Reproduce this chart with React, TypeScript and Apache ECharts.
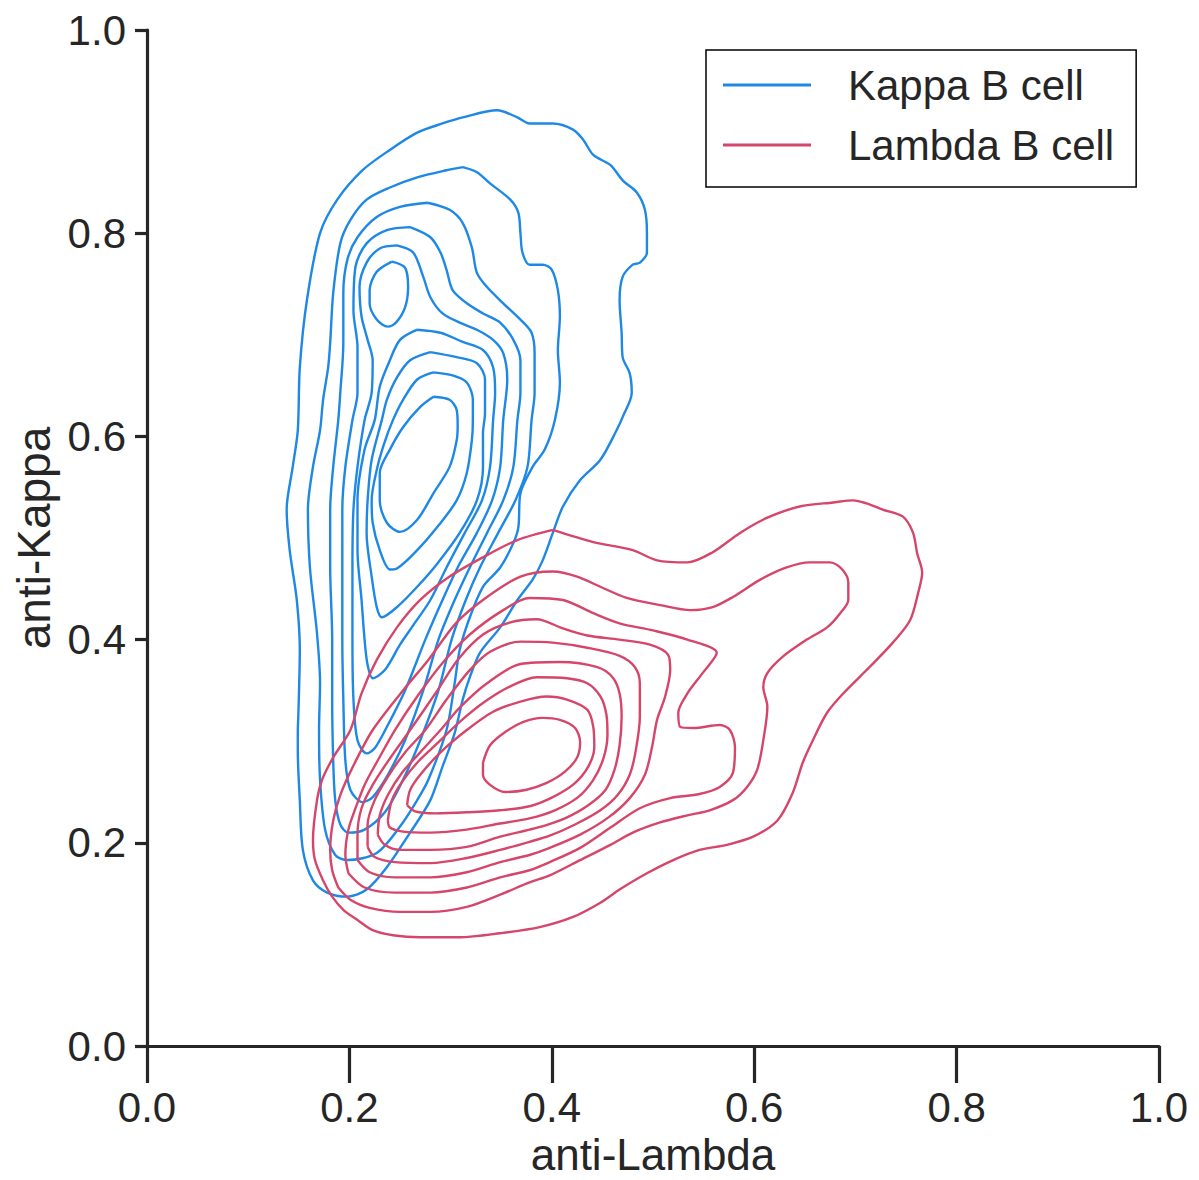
import React, { useEffect, useRef } from "react";
import * as echarts from "echarts";

// ---- data (anti-Lambda, anti-Kappa) ----
const SERIES_NAMES = ["Kappa B cell", "Lambda B cell"];
const TICK_VALUES = [0, 0.2, 0.4, 0.6, 0.8, 1.0];
const TICK_LABELS = ["0.0", "0.2", "0.4", "0.6", "0.8", "1.0"];
const X_NAME = "anti-Lambda";
const Y_NAME = "anti-Kappa";

const KAPPA_1 = [[0.149,0.311],[0.150,0.341],[0.151,0.390],[0.148,0.439],[0.141,0.488],[0.138,0.528],[0.144,0.570],[0.149,0.606],[0.151,0.668],[0.158,0.734],[0.171,0.800],[0.188,0.833],[0.213,0.862],[0.240,0.882],[0.267,0.899],[0.292,0.908],[0.312,0.914],[0.346,0.921],[0.366,0.914],[0.378,0.908],[0.401,0.908],[0.421,0.902],[0.431,0.892],[0.441,0.877],[0.458,0.867],[0.470,0.852],[0.484,0.840],[0.492,0.823],[0.494,0.800],[0.494,0.781],[0.487,0.771],[0.480,0.769],[0.470,0.757],[0.467,0.734],[0.469,0.702],[0.470,0.678],[0.477,0.662],[0.479,0.643],[0.470,0.619],[0.464,0.606],[0.448,0.577],[0.428,0.557],[0.411,0.531],[0.401,0.505],[0.391,0.478],[0.381,0.459],[0.366,0.439],[0.349,0.412],[0.329,0.387],[0.319,0.363],[0.312,0.341],[0.304,0.308],[0.292,0.275],[0.280,0.242],[0.260,0.210],[0.237,0.176],[0.217,0.154],[0.198,0.147],[0.178,0.151],[0.164,0.163],[0.154,0.193],[0.151,0.242],[0.149,0.291]];
const KAPPA_2 = [[0.312,0.865],[0.326,0.860],[0.339,0.849],[0.359,0.833],[0.367,0.820],[0.369,0.800],[0.371,0.781],[0.378,0.769],[0.391,0.769],[0.400,0.764],[0.406,0.744],[0.408,0.718],[0.406,0.685],[0.408,0.653],[0.403,0.616],[0.393,0.587],[0.381,0.570],[0.369,0.544],[0.367,0.511],[0.362,0.495],[0.349,0.471],[0.332,0.452],[0.319,0.422],[0.309,0.390],[0.304,0.357],[0.296,0.311],[0.278,0.262],[0.267,0.242],[0.250,0.216],[0.227,0.190],[0.198,0.183],[0.186,0.188],[0.176,0.213],[0.171,0.262],[0.170,0.311],[0.171,0.357],[0.168,0.406],[0.161,0.471],[0.159,0.528],[0.164,0.570],[0.171,0.606],[0.174,0.636],[0.179,0.668],[0.181,0.692],[0.184,0.741],[0.191,0.790],[0.201,0.813],[0.217,0.833],[0.240,0.845],[0.267,0.855],[0.296,0.862]];
const KAPPA_3 = [[0.277,0.830],[0.299,0.823],[0.312,0.810],[0.321,0.786],[0.326,0.761],[0.336,0.747],[0.352,0.731],[0.369,0.715],[0.380,0.702],[0.383,0.682],[0.383,0.643],[0.380,0.616],[0.376,0.570],[0.364,0.537],[0.347,0.505],[0.329,0.471],[0.315,0.439],[0.301,0.400],[0.288,0.350],[0.270,0.301],[0.253,0.262],[0.235,0.230],[0.215,0.213],[0.199,0.210],[0.191,0.218],[0.186,0.242],[0.184,0.281],[0.183,0.341],[0.183,0.400],[0.181,0.471],[0.181,0.528],[0.184,0.570],[0.189,0.616],[0.191,0.643],[0.194,0.692],[0.194,0.741],[0.198,0.774],[0.208,0.796],[0.227,0.816],[0.250,0.826]];
const KAPPA_4 = [[0.260,0.806],[0.280,0.796],[0.290,0.781],[0.296,0.764],[0.302,0.744],[0.316,0.731],[0.332,0.721],[0.349,0.712],[0.362,0.695],[0.369,0.675],[0.369,0.643],[0.366,0.616],[0.362,0.570],[0.352,0.537],[0.336,0.505],[0.319,0.471],[0.304,0.439],[0.288,0.400],[0.273,0.350],[0.255,0.301],[0.238,0.267],[0.223,0.245],[0.213,0.240],[0.201,0.252],[0.196,0.281],[0.194,0.341],[0.193,0.400],[0.193,0.471],[0.193,0.528],[0.196,0.570],[0.203,0.616],[0.208,0.643],[0.208,0.688],[0.204,0.724],[0.206,0.767],[0.217,0.790],[0.237,0.803]];
const KAPPA_5 = [[0.247,0.788],[0.263,0.781],[0.273,0.757],[0.280,0.737],[0.292,0.721],[0.309,0.712],[0.326,0.705],[0.342,0.695],[0.352,0.682],[0.356,0.656],[0.352,0.616],[0.349,0.570],[0.341,0.537],[0.326,0.505],[0.307,0.471],[0.292,0.439],[0.275,0.400],[0.255,0.350],[0.238,0.316],[0.225,0.293],[0.217,0.288],[0.208,0.301],[0.204,0.341],[0.203,0.400],[0.203,0.471],[0.204,0.528],[0.208,0.570],[0.215,0.616],[0.222,0.643],[0.223,0.675],[0.218,0.695],[0.212,0.718],[0.210,0.747],[0.217,0.771],[0.230,0.785]];
const KAPPA_6 = [[0.242,0.772],[0.255,0.766],[0.258,0.747],[0.255,0.727],[0.246,0.712],[0.238,0.708],[0.227,0.715],[0.220,0.731],[0.220,0.744],[0.227,0.762]];
const KAPPA_7 = [[0.267,0.705],[0.290,0.702],[0.312,0.693],[0.332,0.685],[0.342,0.668],[0.344,0.643],[0.342,0.616],[0.339,0.570],[0.331,0.537],[0.314,0.505],[0.296,0.471],[0.280,0.439],[0.263,0.414],[0.250,0.395],[0.235,0.370],[0.223,0.362],[0.218,0.375],[0.215,0.400],[0.212,0.439],[0.208,0.488],[0.208,0.537],[0.215,0.587],[0.225,0.616],[0.230,0.649],[0.240,0.675],[0.250,0.695]];
const KAPPA_8 = [[0.280,0.683],[0.306,0.678],[0.326,0.672],[0.334,0.656],[0.334,0.623],[0.332,0.603],[0.332,0.570],[0.326,0.537],[0.309,0.505],[0.287,0.475],[0.267,0.452],[0.247,0.432],[0.232,0.422],[0.227,0.432],[0.222,0.462],[0.217,0.505],[0.218,0.537],[0.222,0.577],[0.232,0.616],[0.237,0.636],[0.247,0.658],[0.260,0.675]];
const KAPPA_9 = [[0.283,0.663],[0.302,0.660],[0.316,0.653],[0.322,0.636],[0.322,0.616],[0.321,0.596],[0.316,0.564],[0.306,0.537],[0.287,0.511],[0.267,0.488],[0.247,0.470],[0.240,0.469],[0.230,0.488],[0.223,0.515],[0.222,0.537],[0.227,0.567],[0.234,0.592],[0.243,0.616],[0.253,0.636],[0.267,0.656]];
const KAPPA_10 = [[0.283,0.639],[0.299,0.636],[0.306,0.626],[0.307,0.611],[0.306,0.596],[0.299,0.570],[0.283,0.544],[0.267,0.518],[0.250,0.506],[0.237,0.515],[0.230,0.537],[0.230,0.564],[0.240,0.587],[0.253,0.609],[0.270,0.629]];

const LAMBDA_1 = [[0.332,0.279],[0.339,0.296],[0.354,0.309],[0.372,0.319],[0.391,0.323],[0.408,0.321],[0.423,0.313],[0.428,0.299],[0.425,0.284],[0.413,0.270],[0.395,0.259],[0.374,0.252],[0.354,0.250],[0.339,0.257],[0.332,0.267]];
const LAMBDA_2 = [[0.257,0.237],[0.260,0.252],[0.270,0.267],[0.290,0.289],[0.316,0.311],[0.342,0.329],[0.369,0.339],[0.395,0.344],[0.415,0.341],[0.435,0.331],[0.441,0.314],[0.442,0.294],[0.436,0.275],[0.422,0.258],[0.401,0.245],[0.378,0.236],[0.349,0.232],[0.316,0.230],[0.285,0.229],[0.265,0.231]];
const LAMBDA_3 = [[0.238,0.222],[0.242,0.242],[0.252,0.260],[0.268,0.280],[0.287,0.298],[0.309,0.319],[0.334,0.339],[0.359,0.354],[0.385,0.363],[0.415,0.362],[0.435,0.357],[0.448,0.344],[0.454,0.326],[0.455,0.306],[0.451,0.283],[0.441,0.262],[0.426,0.245],[0.403,0.232],[0.378,0.224],[0.349,0.219],[0.316,0.213],[0.280,0.210],[0.253,0.211],[0.240,0.215]];
const LAMBDA_4 = [[0.228,0.208],[0.230,0.227],[0.238,0.247],[0.252,0.269],[0.270,0.289],[0.290,0.311],[0.309,0.333],[0.336,0.357],[0.369,0.376],[0.408,0.378],[0.445,0.373],[0.460,0.363],[0.467,0.347],[0.469,0.324],[0.467,0.296],[0.462,0.272],[0.453,0.252],[0.436,0.237],[0.413,0.224],[0.393,0.217],[0.378,0.213],[0.349,0.206],[0.316,0.196],[0.280,0.193],[0.250,0.193],[0.235,0.198]];
const LAMBDA_5 = [[0.218,0.196],[0.218,0.218],[0.225,0.242],[0.238,0.265],[0.255,0.289],[0.275,0.311],[0.296,0.341],[0.319,0.370],[0.339,0.388],[0.369,0.398],[0.401,0.397],[0.435,0.392],[0.467,0.384],[0.482,0.373],[0.487,0.357],[0.487,0.324],[0.483,0.291],[0.477,0.267],[0.465,0.247],[0.448,0.232],[0.423,0.218],[0.398,0.207],[0.378,0.201],[0.349,0.193],[0.316,0.185],[0.280,0.180],[0.245,0.181],[0.225,0.186]];
const LAMBDA_6 = [[0.208,0.183],[0.208,0.208],[0.212,0.234],[0.223,0.257],[0.240,0.283],[0.260,0.311],[0.287,0.350],[0.307,0.380],[0.332,0.405],[0.359,0.417],[0.385,0.420],[0.411,0.411],[0.435,0.404],[0.467,0.400],[0.497,0.395],[0.515,0.385],[0.517,0.370],[0.512,0.344],[0.504,0.321],[0.499,0.294],[0.492,0.267],[0.477,0.244],[0.456,0.225],[0.428,0.208],[0.398,0.195],[0.378,0.188],[0.349,0.181],[0.316,0.171],[0.280,0.166],[0.245,0.166],[0.220,0.171]];
const LAMBDA_7 = [[0.199,0.170],[0.196,0.188],[0.199,0.213],[0.206,0.234],[0.215,0.257],[0.228,0.281],[0.245,0.311],[0.267,0.344],[0.292,0.377],[0.319,0.405],[0.352,0.429],[0.378,0.441],[0.411,0.439],[0.441,0.426],[0.467,0.416],[0.500,0.409],[0.534,0.400],[0.563,0.387],[0.549,0.367],[0.534,0.347],[0.525,0.328],[0.527,0.314],[0.540,0.313],[0.566,0.316],[0.576,0.311],[0.581,0.294],[0.579,0.269],[0.566,0.255],[0.546,0.248],[0.517,0.244],[0.487,0.234],[0.458,0.215],[0.428,0.195],[0.398,0.181],[0.378,0.173],[0.349,0.166],[0.316,0.156],[0.280,0.151],[0.245,0.151],[0.215,0.156]];
const LAMBDA_8 = [[0.189,0.156],[0.183,0.173],[0.181,0.193],[0.184,0.222],[0.191,0.247],[0.203,0.274],[0.223,0.311],[0.253,0.350],[0.278,0.380],[0.306,0.417],[0.336,0.442],[0.369,0.462],[0.401,0.467],[0.425,0.462],[0.448,0.452],[0.474,0.441],[0.507,0.434],[0.537,0.429],[0.559,0.432],[0.579,0.442],[0.606,0.459],[0.632,0.471],[0.655,0.476],[0.675,0.476],[0.687,0.469],[0.693,0.456],[0.693,0.439],[0.685,0.426],[0.672,0.412],[0.652,0.400],[0.628,0.383],[0.613,0.367],[0.609,0.353],[0.613,0.334],[0.609,0.301],[0.603,0.272],[0.593,0.255],[0.579,0.242],[0.556,0.232],[0.534,0.227],[0.507,0.220],[0.480,0.210],[0.458,0.198],[0.428,0.183],[0.398,0.168],[0.378,0.161],[0.349,0.149],[0.316,0.137],[0.280,0.132],[0.250,0.132],[0.220,0.136],[0.201,0.144]];
const LAMBDA_9 = [[0.401,0.508],[0.441,0.496],[0.480,0.488],[0.504,0.478],[0.534,0.476],[0.559,0.486],[0.586,0.505],[0.613,0.520],[0.645,0.531],[0.678,0.535],[0.698,0.537],[0.711,0.534],[0.727,0.528],[0.747,0.521],[0.757,0.505],[0.761,0.485],[0.766,0.466],[0.762,0.446],[0.754,0.419],[0.737,0.397],[0.714,0.373],[0.688,0.347],[0.672,0.328],[0.658,0.301],[0.648,0.279],[0.638,0.249],[0.623,0.222],[0.599,0.206],[0.573,0.198],[0.546,0.193],[0.520,0.183],[0.494,0.170],[0.467,0.154],[0.448,0.141],[0.421,0.127],[0.388,0.117],[0.349,0.111],[0.309,0.107],[0.270,0.107],[0.243,0.109],[0.223,0.114],[0.208,0.124],[0.194,0.134],[0.183,0.147],[0.174,0.163],[0.166,0.183],[0.164,0.203],[0.168,0.242],[0.173,0.262],[0.184,0.284],[0.201,0.311],[0.212,0.347],[0.227,0.380],[0.247,0.412],[0.270,0.439],[0.299,0.462],[0.332,0.481],[0.366,0.498]];

const KAPPA_CONTOURS = [KAPPA_1, KAPPA_2, KAPPA_3, KAPPA_4, KAPPA_5, KAPPA_6, KAPPA_7, KAPPA_8, KAPPA_9, KAPPA_10];
const LAMBDA_CONTOURS = [LAMBDA_1, LAMBDA_2, LAMBDA_3, LAMBDA_4, LAMBDA_5, LAMBDA_6, LAMBDA_7, LAMBDA_8, LAMBDA_9];

// ---- styles ----
const BLUE = "#1e88e5";
const RED = "#d6456a";
const INK = "#262626";
const FONT = "'Liberation Sans', Arial, Helvetica, sans-serif";

export default function App() {
  const ref = useRef<HTMLDivElement>(null);

  useEffect(() => {
    if (!ref.current) return;
    const chart = echarts.init(ref.current, null, { renderer: "svg" });
    const closeLoop = (pts: number[][]) => [...pts, pts[0]];
    const mk = (pts: number[][], name: string, color: string, z: number) => ({
      type: "line",
      name,
      data: closeLoop(pts),
      showSymbol: false,
      symbol: "none",
      smooth: 0.3,
      silent: true,
      z,
      lineStyle: { color, width: 2.4 },
      itemStyle: { color },
    });
    const fmt = (v: number) => TICK_LABELS[TICK_VALUES.findIndex((t) => Math.abs(t - v) < 1e-6)] ?? "";

    chart.setOption({
      animation: false,
      textStyle: { fontFamily: FONT },
      grid: { left: 147, right: 40, top: 30, bottom: 134, outerBoundsMode: "none", containLabel: false },
      xAxis: {
        type: "value",
        min: 0,
        max: 1,
        interval: 0.2,
        splitLine: { show: false },
        axisLine: { lineStyle: { color: INK, width: 3.2 } },
        axisTick: { length: 37, lineStyle: { color: INK, width: 3.2 } },
        axisLabel: { formatter: fmt, fontSize: 42, color: INK, margin: 40, fontFamily: FONT },
        name: X_NAME,
        nameLocation: "middle",
        nameGap: 106,
        nameTextStyle: {
          fontSize: 44,
          lineHeight: 40,
          verticalAlign: "middle",
          color: INK,
          fontFamily: FONT,
        },
      },
      yAxis: {
        type: "value",
        min: 0,
        max: 1,
        interval: 0.2,
        splitLine: { show: false },
        axisLine: { lineStyle: { color: INK, width: 3.2 } },
        axisTick: { length: 12, lineStyle: { color: INK, width: 3.2 } },
        axisLabel: { formatter: fmt, fontSize: 42, color: INK, margin: 21, fontFamily: FONT },
        name: Y_NAME,
        nameLocation: "middle",
        nameRotate: 90,
        nameGap: 81,
        nameTextStyle: { fontSize: 46, color: INK, fontFamily: FONT },
      },
      legend: {
        data: SERIES_NAMES,
        orient: "vertical",
        left: 706,
        top: 50,
        padding: [14, 22, 21, 17],
        itemGap: 18,
        itemWidth: 88,
        itemHeight: 3,
        icon: "rect",
        borderColor: "#000",
        borderWidth: 1.5,
        borderRadius: 0,
        textStyle: { fontSize: 42, color: INK, fontFamily: FONT, padding: [0, 0, 0, 32] },
      },
      series: [
        ...KAPPA_CONTOURS.map((c) => mk(c, SERIES_NAMES[0], BLUE, 2)),
        ...LAMBDA_CONTOURS.map((c) => mk(c, SERIES_NAMES[1], RED, 3)),
      ],
    });
    return () => chart.dispose();
  }, []);

  return (
    <div
      ref={ref}
      style={{ position: "absolute", left: 0, top: 0, width: 1199, height: 1180, background: "#fff" }}
    />
  );
}
